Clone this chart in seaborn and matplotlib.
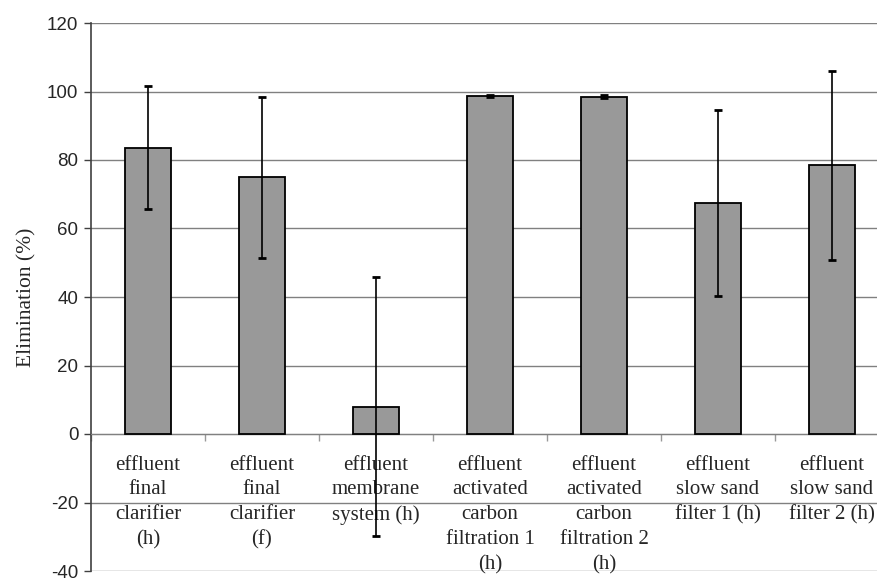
import numpy as np
import pandas as pd
import seaborn as sns
import matplotlib.pyplot as plt

# values
labels = [
    "effluent\nfinal\nclarifier\n(h)",
    "effluent\nfinal\nclarifier\n(f)",
    "effluent\nmembrane\nsystem (h)",
    "effluent\nactivated\ncarbon\nfiltration 1\n(h)",
    "effluent\nactivated\ncarbon\nfiltration 2\n(h)",
    "effluent\nslow sand\nfilter 1 (h)",
    "effluent\nslow sand\nfilter 2 (h)",
]
elimination = [83.6, 74.9, 8.0, 98.7, 98.5, 67.5, 78.4]
std_dev = [17.9, 23.5, 37.9, 0.4, 0.5, 27.2, 27.6]
y_ticks = [-40, -20, 0, 20, 40, 60, 80, 100, 120]

sns.set_style("white")
plt.rcParams["font.family"] = ["Liberation Sans", "DejaVu Sans"]
plt.rcParams["axes.unicode_minus"] = False

df = pd.DataFrame({"site": labels, "elim": elimination, "sd": std_dev})

fig = plt.figure(figsize=(8.77, 5.81), dpi=100)
ax = fig.add_axes([91 / 877, 10 / 581, 798 / 877, 548 / 581])

sns.barplot(data=df, x="site", y="elim", color="#999999", width=0.41,
            edgecolor="black", linewidth=1.3, saturation=1, ax=ax, zorder=3)
ax.errorbar(np.arange(len(df)), df["elim"], yerr=df["sd"], fmt="none",
            ecolor="black", elinewidth=1.2, capsize=3, capthick=2, zorder=4)

ax.set_xlim(-0.5, len(df) - 0.5)
ax.set_ylim(-40, 120)
ax.set_yticks(y_ticks)
ax.tick_params(axis="y", labelsize=13.5, length=5, width=1, color="#404040",
               left=True, direction="out", pad=4)
ax.yaxis.grid(True, color="#808080", linewidth=1)
ax.set_axisbelow(True)

# x axis line at zero with boundary ticks
ax.spines["bottom"].set_position(("data", 0))
ax.spines["bottom"].set_color("#808080")
ax.spines["top"].set_visible(False)
ax.spines["right"].set_visible(False)
ax.spines["left"].set_color("#404040")
ax.spines["left"].set_linewidth(1.2)
ax.set_xticks(np.arange(len(df) + 1) - 0.5)
ax.set_xticklabels([])
ax.tick_params(axis="x", bottom=True, length=5, width=1, color="#999999",
               direction="out")
ax.set_xlabel("")

for i, lab in enumerate(labels):
    ax.text(i, -6.3, lab, ha="center", va="top", fontsize=15,
            family="Liberation Serif", linespacing=1.42, clip_on=False)

ax.set_ylabel("Elimination (%)", fontsize=15.5, family="Liberation Serif",
              labelpad=8)

fig.savefig("out.png", dpi=100)
